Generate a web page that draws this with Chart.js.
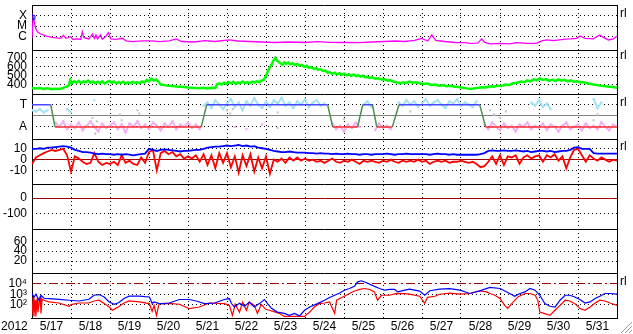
<!DOCTYPE html>
<html>
<head>
<meta charset="utf-8">
<script src="https://cdn.jsdelivr.net/npm/chart.js@4.4.1/dist/chart.umd.min.js"></script>
<style>
  html, body { margin: 0; padding: 0; background: #fff; }
  canvas { display: block; }
</style>
</head>
<body>
<canvas id="space-weather" width="633" height="334"></canvas>
<script>
// x axis runs in days from 2012-05-17 00:00 UT
const dayLabels = ['5/17', '5/18', '5/19', '5/20', '5/21', '5/22', '5/23', '5/24',
                   '5/25', '5/26', '5/27', '5/28', '5/29', '5/30', '5/31'];
const yearLabel = '2012';
const yearTick = -0.45;

// X-ray flux, log10 W/m2
const xrayTime = [0.00, 0.03, 0.06, 0.095, 0.14, 0.22, 0.35, 0.52, 0.74, 0.80, 0.87, 0.99, 1.05, 1.12, 1.25,
  1.29, 1.33, 1.46, 1.55, 1.60, 1.64, 1.68, 1.76, 1.80, 1.89, 1.96, 2.02, 2.15, 2.32, 2.41,
  2.58, 2.83, 3.09, 3.26, 3.52, 3.70, 3.83, 4.16, 4.42, 4.68, 5.06, 5.27, 5.57, 5.88, 6.22,
  6.60, 6.99, 7.32, 7.63, 8.01, 8.40, 8.71, 9.04, 9.30, 9.56, 9.81, 9.99, 10.15, 10.25, 10.35,
  10.58, 10.84, 11.10, 11.23, 11.43, 11.53, 11.61, 11.74, 12.00, 12.25, 12.42, 12.68, 12.94, 13.07, 13.20,
  13.37, 13.62, 13.79, 13.97, 14.05, 14.18, 14.39, 14.56, 14.65, 14.78, 14.91, 15.00];
const xrayLog = [-6.19, -4.10, -4.60, -5.23, -5.55, -5.77, -5.96, -6.10, -6.19, -5.90, -6.19, -6.03, -6.30, -6.25, -6.28,
  -5.55, -6.13, -6.25, -5.77, -6.20, -5.86, -6.25, -5.86, -6.27, -6.03, -5.64, -6.25, -6.29, -6.19, -6.44,
  -6.51, -6.44, -6.44, -6.51, -6.45, -6.25, -6.50, -6.55, -6.42, -6.50, -6.35, -6.45, -6.50, -6.55, -6.60,
  -6.55, -6.60, -6.52, -6.58, -6.60, -6.62, -6.55, -6.50, -6.45, -6.50, -6.40, -6.20, -6.45, -5.85, -6.40,
  -6.50, -6.60, -6.62, -6.68, -6.66, -6.25, -6.58, -6.73, -6.68, -6.73, -6.61, -6.68, -6.68, -6.44, -6.35,
  -6.42, -6.29, -6.25, -6.19, -5.96, -6.19, -6.25, -5.86, -6.10, -6.35, -6.25, -5.96];
const flareTime = [0.03];
const flareLog = [-4.16];

// solar wind speed, km/s  [day, value]
const windSpeed = [
  [0.00, 365], [0.10, 360], [0.20, 366], [0.30, 356], [0.40, 362], [0.50, 352], [0.60, 358], [0.70, 354],
  [0.80, 368], [0.90, 385], [0.95, 400], [0.98, 455], [1.02, 418], [1.08, 440], [1.14, 425], [1.20, 445],
  [1.26, 420], [1.32, 440], [1.38, 428], [1.44, 448], [1.50, 425], [1.56, 438], [1.62, 418], [1.68, 435],
  [1.74, 422], [1.80, 440], [1.86, 415], [1.92, 432], [1.98, 445], [2.04, 425], [2.10, 438], [2.16, 418],
  [2.22, 432], [2.28, 420], [2.34, 436], [2.40, 415], [2.46, 428], [2.52, 418], [2.58, 434], [2.64, 422],
  [2.70, 430], [2.76, 420], [2.82, 438], [2.88, 428], [2.94, 455], [3.00, 440], [3.06, 468], [3.12, 448],
  [3.18, 460], [3.24, 438], [3.30, 405], [3.40, 398], [3.50, 392], [3.60, 388], [3.70, 384], [3.80, 380],
  [3.90, 376], [4.00, 372], [4.10, 370], [4.20, 366], [4.30, 363], [4.40, 368], [4.50, 362], [4.60, 370],
  [4.70, 366], [4.74, 405], [4.80, 418], [4.86, 405], [4.92, 425], [4.98, 410], [5.04, 430], [5.10, 418],
  [5.16, 435], [5.22, 412], [5.28, 428], [5.34, 418], [5.40, 438], [5.46, 420], [5.52, 432], [5.58, 418],
  [5.64, 436], [5.70, 425], [5.76, 442], [5.82, 430], [5.88, 448], [5.94, 455], [6.00, 500], [6.04, 546],
  [6.09, 590], [6.14, 623], [6.19, 670], [6.24, 700], [6.28, 672], [6.32, 656], [6.37, 640], [6.42, 623],
  [6.47, 650], [6.52, 632], [6.57, 648], [6.62, 628], [6.68, 640], [6.74, 620], [6.80, 632], [6.86, 612],
  [6.92, 622], [6.98, 600], [7.04, 612], [7.10, 590], [7.16, 598], [7.22, 578], [7.28, 586], [7.34, 568],
  [7.40, 574], [7.46, 555], [7.52, 560], [7.58, 535], [7.64, 540], [7.70, 522], [7.76, 535], [7.82, 518],
  [7.88, 530], [7.94, 512], [8.00, 525], [8.06, 508], [8.12, 520], [8.18, 500], [8.24, 515], [8.30, 498],
  [8.36, 508], [8.42, 492], [8.48, 502], [8.54, 485], [8.60, 490], [8.66, 478], [8.72, 485], [8.80, 470],
  [8.88, 475], [8.96, 460], [9.04, 462], [9.12, 448], [9.20, 452], [9.28, 436], [9.36, 428], [9.44, 418],
  [9.52, 430], [9.60, 422], [9.68, 438], [9.76, 425], [9.84, 430], [9.94, 418], [10.04, 410], [10.14, 415],
  [10.24, 400], [10.34, 404], [10.44, 392], [10.54, 396], [10.64, 386], [10.74, 390], [10.84, 380], [10.94, 378],
  [11.04, 370], [11.14, 362], [11.24, 356], [11.34, 362], [11.44, 368], [11.54, 375], [11.64, 372], [11.74, 384],
  [11.84, 380], [11.94, 392], [12.04, 388], [12.14, 405], [12.24, 400], [12.34, 418], [12.44, 425], [12.54, 438],
  [12.62, 430], [12.70, 450], [12.78, 440], [12.86, 462], [12.94, 450], [13.02, 472], [13.10, 455], [13.18, 465],
  [13.26, 445], [13.34, 458], [13.42, 442], [13.50, 462], [13.58, 448], [13.66, 456], [13.74, 440], [13.82, 452],
  [13.90, 435], [13.98, 440], [14.06, 428], [14.14, 432], [14.22, 418], [14.30, 414], [14.40, 405], [14.50, 398],
  [14.60, 390], [14.70, 385], [14.80, 380], [14.90, 376], [15.00, 370]
];

// IMF sector, 1 = toward, -1 = away  [day, value]
const sector = [[0, 1], [0.48, 1], [0.59, -1], [4.34, -1], [4.48, 1], [7.58, 1], [7.71, -1], [8.35, -1],
  [8.48, 1], [8.73, 1], [8.84, -1], [9.24, -1], [9.41, 1], [11.48, 1], [11.63, -1], [15, -1]];

// series below are sampled every 0.1 day
const gridStep = 0.1;
const phiToward = [
  0.5, 0.4, 0.6, 0.3, 0.5, null, null, null, null, 0.6,
  0.3, null, null, null, null, null, 1.4, null, null, null,
  null, null, null, null, null, null, null, null, null, null,
  null, null, null, null, null, null, null, null, null, null,
  null, null, null, null, 0.9, 1.2, 0.7, 1.4, 1.0, 0.6,
  1.1, 1.5, 0.8, 1.2, 0.5, 1.3, 0.9, 1.6, 1.0, 0.7,
  1.3, 0.8, 1.4, 1.1, 1.6, 0.9, 1.2, 0.7, 1.3, 1.0,
  1.5, 0.8, 1.2, 1.4, 0.9, 1.1, null, null, null, null,
  null, null, null, null, null, 1.0, 1.3, 0.8, null, null,
  null, null, null, null, 1.2, 0.9, 1.4, 1.0, 1.3, 0.8,
  1.1, 1.5, 0.9, 1.2, 1.4, 1.0, 0.7, 1.3, 1.1, 1.5,
  0.9, 1.2, 1.0, 0.8, 1.3, null, null, null, null, null,
  null, null, null, null, null, null, null, null, 1.2, 0.9,
  1.4, 0.8, 1.1, 0.6, null, null, null, null, null, null,
  null, null, null, null, 1.5, 0.7, 1.2, null, null, null,
  null];
const phiAway = [
  null, null, null, null, null, null, -0.6, -1.0, -0.5, -1.2,
  -0.8, -1.1, -0.6, -1.3, -0.9, -0.5, -1.0, -1.4, -0.7, -1.1,
  -0.9, -0.6, -1.2, -0.8, -1.5, -0.7, -1.0, -0.5, -1.1, -0.8,
  -1.2, -0.6, -0.9, -1.3, -0.7, -1.0, -0.5, -1.2, -0.8, -1.0,
  -0.6, -1.1, -0.8, -1.2, null, null, null, null, null, null,
  null, null, -1.0, null, null, -1.2, null, null, null, -0.8,
  null, null, null, -1.1, null, null, null, null, null, null,
  null, null, null, null, null, null, null, -0.7, -1.2, -0.9,
  -1.4, -0.8, -1.1, -0.6, -1.0, null, null, null, -1.3, -0.7,
  -1.1, -0.9, -1.2, null, null, null, null, null, null, null,
  null, null, null, null, null, null, null, null, null, null,
  null, null, null, null, null, null, -0.8, -1.2, -0.6, -1.0,
  -1.3, -0.7, -1.1, -0.9, -1.4, -0.8, -1.0, -0.6, -1.2, -0.9,
  -1.1, -0.7, -1.3, -0.8, -1.0, -1.4, -0.9, -0.6, -1.2, -1.0,
  -0.8, -1.3, -0.7, -1.1, -0.9, -1.2, -0.6, -1.0, -1.3, -0.8,
  -1.0];
const phiMixed = [[1.55, -0.2], [1.58, -0.9], [1.62, -1.6], [1.66, -0.5], [2.25, 0.1], [2.30, -0.4],
  [2.70, 0.5], [2.75, 0.2], [5.00, 0.5], [5.08, 0.2], [5.15, 0.6], [6.30, 0.3], [8.00, -0.3],
  [9.70, 0.4], [11.75, 0.5], [11.85, 0.1], [12.00, -0.2], [12.15, 0.4], [14.40, -0.4], [14.50, 0.1]];

// IMF magnitude and Bz, nT
const imfBt = [
  10, 10, 10.5, 10, 11, 11, 11.5, 12, 12.5, 12,
  11, 9, 8, 7, 7, 6.5, 5.5, 5, 5.5, 5,
  5, 4.5, 5, 4.5, 5, 4.5, 4, 4.5, 5, 5.5,
  10, 9, 8, 9, 9.5, 9, 8.5, 8, 7.5, 8,
  8, 8.5, 9, 9, 10, 11, 11.5, 12, 12, 12.5,
  13, 12.5, 13, 13.5, 12.5, 13, 12, 12.5, 11, 10.5,
  10, 9, 8, 7.5, 7, 7, 7.5, 7, 6.5, 6.5,
  6.5, 6, 6, 5.5, 6, 5.5, 5.5, 5, 5.5, 5,
  5, 5.5, 5, 5, 4.5, 5, 5, 4.5, 5, 5,
  5, 5.5, 5, 4.5, 5, 5, 5.5, 5, 5, 5,
  5, 5, 4.5, 5, 5.5, 5, 5, 4.5, 5, 4.5,
  4.5, 4.5, 4.5, 4.5, 4.5, 5, 6, 8, 8.5, 8,
  8, 8.5, 8, 8, 8.5, 8, 7.5, 8, 7, 7.5,
  8, 8, 7.5, 8, 7, 7.5, 8, 8, 9, 11,
  11.5, 10, 10, 10, 6, 5.5, 5.5, 5.5, 5.5, 5.5,
  5.5];
const imfBz = [
  -4, 2, 4, 6, 7.5, 9, 8, 9, 10, 4,
  -11, 3, 1, -2, -4, -3, 6, -2, -5, -3,
  -4, -2, -5, 4, -3, -1, -4, -5, 2, -3,
  7, 9, -10, 6, 8, 5, 7, 3, 5, 1,
  3, 1, 4, -2, 5, -5, 4, -8, 6, -3,
  6, -7, 3, -12, 4, -6, 5, -11, 2, -8,
  3, -13, 0, -2, 1, -3, 2, -1, 2, -1,
  1, -1, 0, -2, -1, -3, -1, 1, -2, -3,
  -1, -2, 0, -2, -4, -1, -2, -1, -2, -3,
  -1, -2, 0, -2, -3, -1, -2, -1, -2, 0,
  -2, -1, -4, -2, -1, -2, -1, -3, -2, -2,
  -1, -2, -3, -2, -4, -7, -6, -2, 3, -4,
  4, -5, 3, 2, 4, -4, 2, 4, 1, 3,
  4, -2, 4, 2, 5, -1, 3, -8, 2, 9,
  10, 4, -2, 4, 1, -1, 2, 0, -2, 0,
  -1];

// particle flux, log10  [day, value]
const electronFlux = [[0.00, 3.10], [0.05, 2.71], [0.10, 3.00], [0.18, 2.43], [0.23, 2.90], [0.31, 2.62],
  [0.44, 2.59], [0.69, 2.52], [0.95, 2.43], [1.21, 2.36], [1.46, 2.52], [1.59, 2.90], [1.72, 2.97],
  [1.85, 2.74], [1.98, 2.27], [2.11, 2.05], [2.23, 2.21], [2.36, 2.59], [2.49, 2.81], [2.75, 2.81],
  [3.01, 2.74], [3.08, 2.14], [3.13, 2.27], [3.26, 2.11], [3.39, 2.11], [3.52, 2.17], [3.78, 2.50],
  [4.03, 2.50], [4.21, 2.36], [4.42, 2.11], [4.68, 2.17], [4.93, 2.50], [5.06, 2.59], [5.11, 2.14],
  [5.19, 1.79], [5.32, 2.14], [5.45, 1.86], [5.57, 2.24], [5.70, 1.79], [5.83, 2.11], [5.96, 2.50],
  [6.04, 2.11], [6.14, 1.67], [6.29, 1.31], [6.47, 1.19], [6.60, 1.00], [6.73, 1.19], [6.86, 0.95],
  [6.99, 1.48], [7.12, 1.79], [7.32, 2.11], [7.50, 2.43], [7.63, 2.69], [7.76, 2.90], [7.89, 3.12],
  [8.01, 3.38], [8.14, 3.54], [8.27, 3.76], [8.35, 4.17], [8.45, 4.27], [8.58, 4.08], [8.71, 3.86],
  [8.91, 3.54], [9.04, 3.38], [9.17, 3.45], [9.30, 3.45], [9.38, 3.22], [9.56, 3.38], [9.68, 3.48],
  [9.94, 3.29], [10.07, 2.90], [10.20, 3.33], [10.45, 3.48], [10.71, 3.52], [10.97, 3.38], [11.23, 3.07],
  [11.48, 3.31], [11.74, 3.64], [12.00, 3.54], [12.25, 3.07], [12.38, 2.81], [12.51, 3.07], [12.64, 3.22],
  [12.77, 3.54], [12.90, 3.38], [13.02, 2.90], [13.15, 2.11], [13.28, 1.86], [13.41, 1.79], [13.54, 2.43],
  [13.67, 2.90], [13.79, 2.90], [13.92, 2.74], [14.05, 2.50], [14.18, 2.17], [14.31, 2.27], [14.44, 2.59],
  [14.56, 2.81], [14.69, 3.07], [14.82, 3.07], [15.00, 3.00]];
const protonFlux = [[0.00, 1.00], [0.03, 2.71], [0.05, 0.90], [0.08, 2.43], [0.10, 0.90], [0.13, 2.62],
  [0.15, 1.29], [0.21, 2.81], [0.23, 1.19], [0.26, 2.52], [0.31, 2.43], [0.44, 2.27], [0.69, 2.17],
  [0.95, 1.86], [1.00, 2.02], [1.21, 2.17], [1.46, 2.17], [1.59, 2.36], [1.72, 2.43], [1.85, 2.11],
  [1.98, 1.79], [2.06, 1.48], [2.18, 1.73], [2.36, 2.17], [2.49, 2.36], [2.75, 2.27], [3.01, 2.11],
  [3.08, 1.38], [3.13, 1.95], [3.19, 1.00], [3.26, 2.11], [3.52, 2.14], [3.78, 2.05], [4.03, 1.64],
  [4.29, 1.79], [4.55, 2.17], [4.93, 2.11], [5.06, 1.95], [5.14, 1.00], [5.21, 2.05], [5.32, 1.29],
  [5.40, 2.24], [5.50, 1.48], [5.57, 2.27], [5.70, 1.95], [5.78, 1.19], [5.88, 2.05], [5.99, 1.57],
  [6.09, 1.48], [6.34, 1.19], [6.47, 0.90], [6.99, 0.90], [7.12, 1.31], [7.24, 1.79], [7.37, 2.11],
  [7.50, 2.17], [7.63, 2.27], [7.76, 1.19], [7.81, 2.43], [7.89, 2.59], [8.01, 2.81], [8.14, 3.07],
  [8.27, 3.31], [8.40, 3.45], [8.53, 3.54], [8.66, 3.45], [8.78, 3.22], [8.86, 2.43], [8.96, 2.90],
  [9.17, 2.90], [9.35, 3.07], [9.56, 3.05], [9.68, 3.00], [9.94, 2.81], [10.07, 2.14], [10.14, 2.71],
  [10.33, 2.81], [10.45, 3.00], [10.71, 3.10], [10.97, 3.00], [11.23, 3.07], [11.48, 3.31], [11.66, 3.22],
  [11.74, 3.07], [11.87, 2.90], [12.00, 2.59], [12.12, 1.95], [12.20, 1.67], [12.30, 2.11], [12.46, 2.74],
  [12.64, 3.07], [12.77, 3.07], [12.90, 2.90], [12.97, 2.43], [13.02, 1.31], [13.15, 1.16], [13.28, 1.00],
  [13.41, 1.48], [13.54, 1.95], [13.67, 2.43], [13.79, 2.36], [13.92, 2.11], [14.05, 1.64], [14.18, 1.48],
  [14.31, 1.79], [14.44, 2.17], [14.56, 2.43], [14.69, 2.36], [14.82, 2.17], [15.00, 1.95]];

// tick values and their texts, one set per panel
const xrayTicks = [-6, -5, -4], xrayTickText = ['C', 'M', 'X'];
const speedTicks = [400, 500, 600, 700];
const sectorTicks = [-1, 0, 1], sectorTickText = ['A', '', 'T'];
const imfTicks = [-10, 0, 10];
const dstTicks = [-100, 0];
const kpTicks = [20, 40, 60];
const fluxTicks = [2, 3, 4], fluxTickText = ['10²', '10³', '10⁴'];
const rightTag = 'rl';

const font = {family: "'Liberation Sans', Arial, sans-serif", size: 12};
const dotted = [1, 3];
const darkRed = '#a00000';

const fromPairs = pairs => pairs.map(([x, y]) => ({x, y}));
const onGrid = values => values.map((y, i) => ({x: Math.round(i * gridStep * 10) / 10, y}));

// one stacked panel on the left; special = lines drawn solid/coloured instead of dotted
function panel(min, max, ticks, texts, weight, special = {}) {
  return {
    type: 'linear', position: 'left', stack: 'panels', stackWeight: 1, weight,
    min, max,
    afterBuildTicks: s => { s.ticks = ticks.map(value => ({value})); },
    afterFit: s => { s.width = 32; s.paddingTop = 0; s.paddingBottom = 0; },
    ticks: {
      font, color: '#000', padding: 5, autoSkip: false,
      callback: v => texts ? texts[ticks.indexOf(v)] : String(v)
    },
    grid: {
      drawTicks: false, lineWidth: 1,
      color: c => (c.tick && special[c.tick.value]) ? special[c.tick.value].color : '#000'
    },
    border: {
      color: '#000', width: 1,
      dash: c => (c.tick && special[c.tick.value]) ? special[c.tick.value].dash : dotted
    }
  };
}

const line = (label, yAxisID, data, color, width, extra = {}) => Object.assign({
  label, yAxisID, xAxisID: 'x', data, borderColor: color, backgroundColor: color,
  borderWidth: width, pointRadius: 0, pointBorderWidth: 0, tension: 0, spanGaps: false, fill: false
}, extra);

const cloud = {pointRadius: 1.5, pointStyle: 'rect', pointHoverRadius: 0};

const panelFrame = {
  id: 'panelFrame',
  afterDraw(chart) {
    const {ctx, chartArea: a, scales} = chart;
    const px = v => Math.round(v) + 0.5;
    ctx.save();
    ctx.strokeStyle = '#000';
    ctx.lineWidth = 1;
    ctx.beginPath();
    ['p1', 'p2', 'p3', 'p4', 'p5', 'p6', 'p7'].forEach(id => {
      ctx.moveTo(a.left, px(scales[id].top));
      ctx.lineTo(a.right, px(scales[id].top));
    });
    ctx.moveTo(px(a.right), a.top);
    ctx.lineTo(px(a.right), a.bottom);
    ctx.stroke();

    ctx.fillStyle = '#000';
    ctx.font = `${font.size}px ${font.family}`;
    ctx.textBaseline = 'middle';
    ctx.textAlign = 'left';
    [['p1', -4], ['p2', 700], ['p3', 1], ['p4', 10], ['p7', 4]].forEach(([id, v]) => {
      ctx.fillText(rightTag, a.right + 3, scales[id].getPixelForValue(v) - 2);
    });

    // window resize grip
    const {width, height} = chart;
    ctx.strokeStyle = '#9a9a9a';
    ctx.beginPath();
    [4, 8, 12].forEach(k => {
      ctx.moveTo(width - k, height - 1);
      ctx.lineTo(width - 1, height - k);
    });
    ctx.stroke();
    ctx.restore();
  }
};

new Chart(document.getElementById('space-weather'), {
  type: 'line',
  data: {
    datasets: [
      line('flare', 'p1', flareTime.map((x, i) => ({x, y: flareLog[i]})), '#0000ff', 1,
        {showLine: false, pointRadius: 2.5, pointStyle: 'rect', pointBorderWidth: 1, backgroundColor: 'rgba(0,0,0,0)'}),
      line('xray', 'p1', xrayTime.map((x, i) => ({x, y: xrayLog[i]})), '#ff00ff', 1.3),
      line('speed', 'p2', fromPairs(windSpeed), '#00ff00', 2.5),
      line('sector', 'p3', fromPairs(sector), '#4848ff', 1.5, {
        segment: {
          borderColor: c => c.p0.parsed.y !== c.p1.parsed.y ? '#4c8c4c'
            : (c.p0.parsed.y > 0 ? '#4848ff' : '#ff3030')
        }
      }),
      line('away', 'p3', onGrid(phiAway), '#f2aef2', 2, cloud),
      line('toward', 'p3', onGrid(phiToward), '#a4e0f6', 2, cloud),
      line('mixed', 'p3', fromPairs(phiMixed), '#c4c4c4', 1, Object.assign({showLine: false}, cloud)),
      line('Bt', 'p4', onGrid(imfBt), '#0000ff', 1.8),
      line('Bz', 'p4', onGrid(imfBz), '#ff0000', 1.8),
      line('electrons', 'p7', fromPairs(electronFlux), '#0000ff', 1.2),
      line('protons', 'p7', fromPairs(protonFlux), '#ff0000', 1.2)
    ]
  },
  options: {
    responsive: false,
    animation: false,
    devicePixelRatio: 1,
    events: [],
    layout: {padding: {top: 3, right: 16, left: 0, bottom: 0}},
    plugins: {legend: {display: false}, tooltip: {enabled: false}},
    scales: {
      x: {
        type: 'linear', position: 'bottom', min: 0, max: dayLabels.length,
        afterBuildTicks: s => {
          const t = [{value: yearTick}];
          dayLabels.forEach((_, d) => {
            if (d > 0) t.push({value: d});
            t.push({value: d + 0.5});
          });
          s.ticks = t;
        },
        afterFit: s => { s.height = 16; s.paddingLeft = 0; s.paddingRight = 0; },
        ticks: {
          font, color: '#000', padding: 1, autoSkip: false, maxRotation: 0,
          callback: v => v === yearTick ? yearLabel : (v % 1 ? dayLabels[Math.floor(v)] : '')
        },
        grid: {
          drawTicks: false,
          color: c => (c.tick && c.tick.value % 1 === 0) ? '#000' : 'rgba(0,0,0,0)'
        },
        border: {color: '#000', width: 1, dash: dotted}
      },
      p7: panel(0.75, 4.98, fluxTicks, fluxTickText, 1, {4: {color: darkRed, dash: [9, 3, 2, 3]}}),
      p6: panel(-4.6, 85.4, kpTicks, null, 2),
      p5: panel(-199, 93, dstTicks, null, 3, {0: {color: darkRed, dash: []}}),
      p4: panel(-22.4, 18.9, imfTicks, null, 4, {0: {color: darkRed, dash: []}}),
      p3: panel(-2.1, 1.92, sectorTicks, sectorTickText, 5, {0: {color: '#808080', dash: []}}),
      p2: panel(295, 790, speedTicks, null, 6),
      p1: panel(-7.3, -2.95, xrayTicks, xrayTickText, 7)
    }
  },
  plugins: [panelFrame]
});
</script>
</body>
</html>
